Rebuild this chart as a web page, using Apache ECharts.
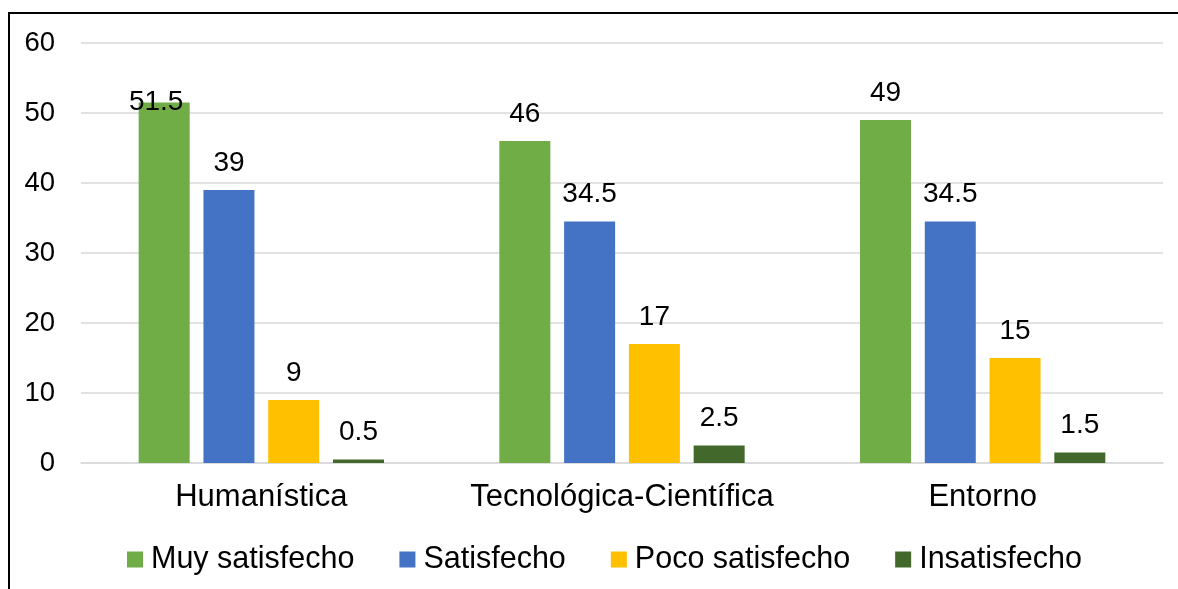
<!DOCTYPE html>
<html><head><meta charset="utf-8">
<script src="https://cdn.jsdelivr.net/npm/echarts@6/dist/echarts.min.js"></script>
<style>html,body{margin:0;padding:0;background:#fff}#c{width:1178px;height:589px}
#f{position:absolute;left:8px;top:12px;width:1300px;height:700px;border-left:2px solid #000;border-top:2px solid #000;pointer-events:none}</style>
</head><body><div id="c"></div><div id="f"></div>
<script>
const categories = ['Humanística', 'Tecnológica-Científica', 'Entorno'];
const seriesNames = ['Muy satisfecho', 'Satisfecho', 'Poco satisfecho', 'Insatisfecho'];
const muySatisfecho = [51.5, 46, 49];
const satisfecho = [39, 34.5, 34.5];
const pocoSatisfecho = [9, 17, 15];
const insatisfecho = [0.5, 2.5, 1.5];
const yTicks = [0, 10, 20, 30, 40, 50, 60];

const colors = ['#70AD47', '#4472C4', '#FFC000', '#43682B'];
const allData = [muySatisfecho, satisfecho, pocoSatisfecho, insatisfecho];
const font = '"Liberation Sans", Arial, sans-serif';

const chart = echarts.init(document.getElementById('c'));
chart.setOption({
  animation: false,
  grid: { left: 81, right: 15, top: 43, bottom: 126 },
  legend: {
    top: 539, left: 122, itemWidth: 16, itemHeight: 16, itemGap: 45,
    icon: 'rect',
    textStyle: { fontSize: 30.5, color: '#000', fontFamily: font, padding: [0, 0, 0, 3] },
    data: seriesNames
  },
  xAxis: {
    type: 'category', data: categories,
    axisLine: { lineStyle: { color: '#d9d9d9', width: 1.5 } },
    axisTick: { show: false },
    axisLabel: { interval: 0, fontSize: 31, color: '#000', fontFamily: font, margin: 19 }
  },
  yAxis: {
    type: 'value', min: yTicks[0], max: yTicks[yTicks.length - 1], interval: 10,
    axisLine: { show: false }, axisTick: { show: false },
    splitLine: { lineStyle: { color: '#d9d9d9', width: 1.5 } },
    axisLabel: { fontSize: 27.5, color: '#000', fontFamily: font, margin: 26 }
  },
  series: seriesNames.map((name, i) => ({
    name, type: 'bar', barWidth: 51, barGap: '27%', barCategoryGap: '32%',
    itemStyle: { color: colors[i] },
    label: { show: true, position: 'top', distance: 13, fontSize: 28, color: '#000', fontFamily: font },
    data: allData[i].map((v, j) => (i === 0 && j === 0)
      ? { value: v, label: { offset: [-8, 27] } }
      : v)
  }))
});
</script></body></html>
